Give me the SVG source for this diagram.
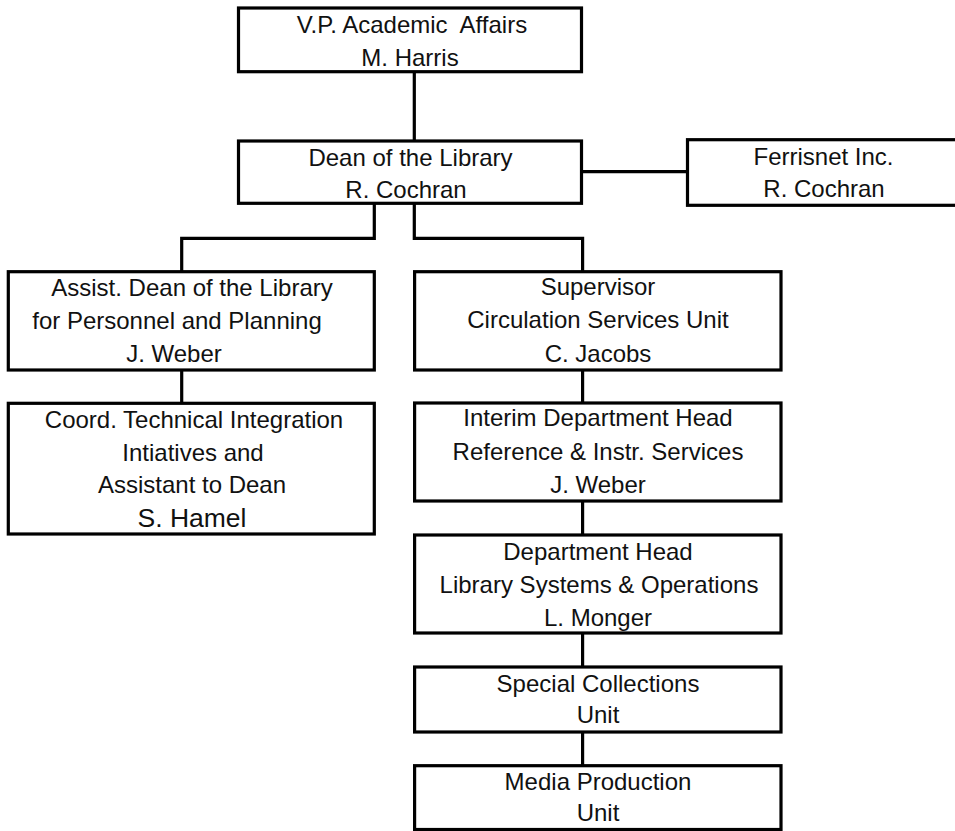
<svg xmlns="http://www.w3.org/2000/svg" width="955" height="831" viewBox="0 0 955 831">
<style>
.box{fill:#fff;stroke:#000;stroke-width:3.2}
.t{font-family:"Liberation Sans",Arial,sans-serif;font-size:24px;fill:#111;text-anchor:middle;white-space:pre}
.big{font-size:26.5px}
.ln{fill:none;stroke:#000;stroke-width:3.2}
</style>
<rect width="955" height="831" fill="#fff"/>
<g id="connectors">
<path class="ln" d="M414.3 71.7 V141"/>
<path class="ln" d="M581.5 171.7 H687.5"/>
<path class="ln" d="M374.3 203.3 V238.3 H181.7 V271.7"/>
<path class="ln" d="M414.3 203.3 V238.3 H582.6 V271.7"/>
<path class="ln" d="M181.7 370 V403.3"/>
<path class="ln" d="M582.6 370 V403"/>
<path class="ln" d="M582.6 501 V535"/>
<path class="ln" d="M582.6 633 V667"/>
<path class="ln" d="M582.6 732 V765.7"/>
</g>
<g id="vp">
<rect class="box" x="238.5" y="8" width="343" height="63.7"/>
<text class="t" x="412" y="32.5">V.P. Academic  Affairs</text>
<text class="t" x="410" y="65.5">M. Harris</text>
</g>
<g id="dean">
<rect class="box" x="238.5" y="141" width="343" height="62.3"/>
<text class="t" x="410.5" y="165.7">Dean of the Library</text>
<text class="t" x="406" y="198.3">R. Cochran</text>
</g>
<g id="ferrisnet">
<rect class="box" x="687.5" y="139.7" width="272" height="65.6"/>
<text class="t" x="823.5" y="165">Ferrisnet Inc.</text>
<text class="t" x="824" y="197.3">R. Cochran</text>
</g>
<g id="assist">
<rect class="box" x="8.3" y="271.7" width="366" height="98.3"/>
<text class="t" x="192" y="296">Assist. Dean of the Library</text>
<text class="t" x="177" y="328.5">for Personnel and Planning</text>
<text class="t" x="174" y="361.7">J. Weber</text>
</g>
<g id="coord">
<rect class="box" x="8.3" y="403.3" width="366" height="130.7"/>
<text class="t" x="194" y="428">Coord. Technical Integration</text>
<text class="t" x="193" y="460.7">Intiatives and</text>
<text class="t" x="192" y="493">Assistant to Dean</text>
<text class="t big" x="192" y="527">S. Hamel</text>
</g>
<g id="supervisor">
<rect class="box" x="414.6" y="271.7" width="366.4" height="98.3"/>
<text class="t" x="598" y="294.5">Supervisor</text>
<text class="t" x="598" y="328">Circulation Services Unit</text>
<text class="t" x="598" y="361.7">C. Jacobs</text>
</g>
<g id="interim">
<rect class="box" x="414.6" y="403" width="366.4" height="98"/>
<text class="t" x="598" y="426">Interim Department Head</text>
<text class="t" x="598" y="459.5">Reference &amp; Instr. Services</text>
<text class="t" x="598" y="493.3">J. Weber</text>
</g>
<g id="depthead">
<rect class="box" x="414.6" y="535" width="366.4" height="98"/>
<text class="t" x="598" y="559.5">Department Head</text>
<text class="t" x="599" y="593">Library Systems &amp; Operations</text>
<text class="t" x="598" y="625.5">L. Monger</text>
</g>
<g id="special">
<rect class="box" x="414.6" y="667" width="366.4" height="65"/>
<text class="t" x="598" y="691.7">Special Collections</text>
<text class="t" x="598" y="723.3">Unit</text>
</g>
<g id="media">
<rect class="box" x="414.6" y="765.7" width="366.4" height="63.8"/>
<text class="t" x="598" y="790">Media Production</text>
<text class="t" x="598" y="821">Unit</text>
</g>
</svg>
